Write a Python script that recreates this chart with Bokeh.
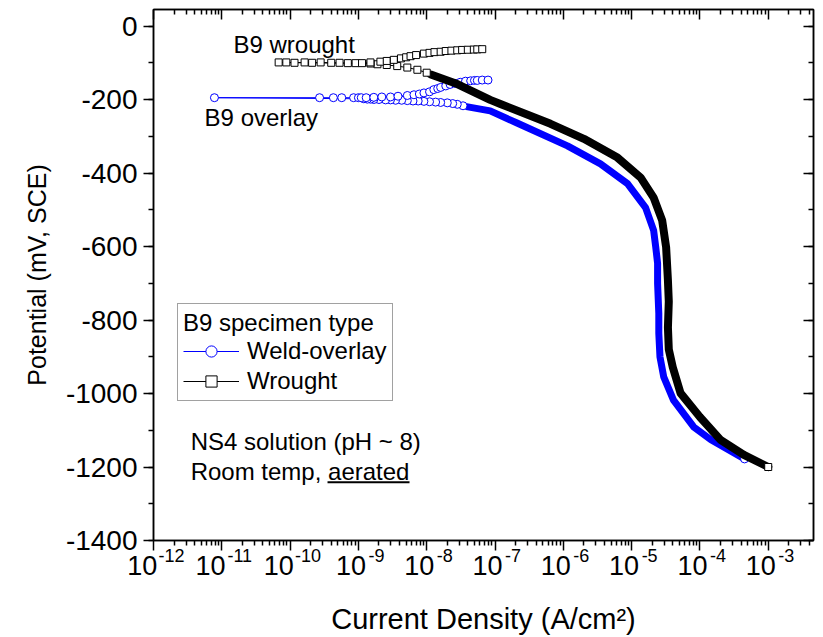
from bokeh.plotting import figure
from bokeh.models import (ColumnDataSource, FixedTicker, LogAxis, LinearAxis, CustomJSTickFormatter,
                          Legend, LegendItem, Label, BoxAnnotation, Range1d, LogScale)
from bokeh.embed import file_html
from bokeh.resources import INLINE

FONT = "Liberation Sans"

# ---------------- data ----------------
# Wrought B9: current density (A/cm2) and potential (mV, SCE), ordered along the scan
wrought_i = [1.0e-3, 4.4e-4, 2.0e-4, 1.0e-4, 5.2e-5, 4.0e-5, 3.5e-5, 3.4e-5, 3.5e-5, 3.4e-5,
             3.2e-5, 2.8e-5, 2.1e-5, 1.35e-5, 6.2e-6, 2.0e-6, 6.5e-7, 1.2e-7, 8.5e-8, 2.8e-8, 1.15e-8,
             1.0e-8, 7.3e-9, 5.2e-9, 3.7e-9, 2.6e-9, 1.9e-9, 1.5e-9,
             6.8e-11, 8.8e-11, 1.16e-10, 1.63e-10, 2.1e-10, 2.8e-10, 4.0e-10, 5.3e-10, 7.0e-10, 9.1e-10, 1.13e-9,
             1.5e-9, 2.1e-9, 2.6e-9, 3.3e-9, 4.2e-9, 5.0e-9, 5.8e-9, 7.0e-9, 9.1e-9, 1.1e-8,
             1.3e-8, 1.6e-8, 1.9e-8, 2.3e-8, 2.8e-8, 3.3e-8, 4.0e-8, 4.9e-8, 5.5e-8, 6.5e-8]
wrought_E = [-1200, -1167, -1126, -1064, -999, -928, -880, -820, -750, -692,
             -602, -529, -467, -412, -358, -307, -266, -212, -201, -158, -132,
             -127, -119, -113, -109, -106, -104, -102,
             -99, -99, -100, -99, -100, -99, -100, -100, -101, -101, -101,
             -99, -97, -95, -92, -88, -85, -82, -79, -75, -73,
             -71, -70, -68, -67, -66, -65, -64.5, -64, -63.5, -63]
wrought_dense = 21   # first points of the scan form the solid band

# Weld-overlay B9
overlay_i = [4.5e-4, 1.45e-4, 8.1e-5, 4.1e-5, 2.95e-5, 2.6e-5, 2.5e-5, 2.5e-5, 2.4e-5, 2.4e-5,
             2.25e-5, 2.1e-5, 1.6e-5, 8.7e-6, 3.5e-6, 1.15e-6, 2.1e-7, 8.5e-8, 4.0e-8,
             3.4e-8, 2.8e-8, 2.4e-8, 2.0e-8, 1.6e-8, 1.35e-8, 1.1e-8, 9.1e-9, 7.5e-9, 6.3e-9,
             5.2e-9, 4.3e-9, 3.5e-9, 2.95e-9, 2.5e-9, 2.0e-9, 1.68e-9, 1.5e-9, 1.35e-9, 1.2e-9,
             7.8e-12, 2.7e-10, 4.3e-10, 5.7e-10, 8.5e-10, 1.0e-9, 1.1e-9,
             1.3e-9, 1.68e-9, 2.2e-9, 2.95e-9, 3.8e-9, 5.2e-9, 6.5e-9, 7.8e-9, 9.1e-9, 1.1e-8,
             1.27e-8, 1.45e-8, 1.6e-8, 1.9e-8, 2.2e-8, 2.6e-8, 3.1e-8, 3.7e-8, 4.4e-8, 5.0e-8,
             5.5e-8, 6.5e-8, 7.9e-8]
overlay_E = [-1178, -1126, -1091, -1018, -955, -900, -836, -782, -700, -646,
             -600, -556, -494, -429, -375, -326, -264, -231, -220,
             -217, -213, -211, -209, -208, -207, -206, -205, -204, -204,
             -203, -202, -202, -201, -201, -200, -200, -199, -199, -198,
             -195, -195, -195, -195, -195, -195, -195,
             -195, -194, -193, -193, -191, -189, -187, -185, -182, -179,
             -173, -170, -167, -163, -159, -156, -153, -150, -149, -148,
             -148, -147, -147]
overlay_dense = 19

x_tick_values = [1e-12, 1e-11, 1e-10, 1e-9, 1e-8, 1e-7, 1e-6, 1e-5, 1e-4, 1e-3]
x_tick_base = ["10"] * len(x_tick_values)
x_tick_exponents = ["-12", "-11", "-10", "-9", "-8", "-7", "-6", "-5", "-4", "-3"]
x_minor_values = [m * d for d in x_tick_values for m in range(2, 10)]
y_tick_values = [-1400, -1200, -1000, -800, -600, -400, -200, 0]
y_tick_labels = ["-1400", "-1200", "-1000", "-800", "-600", "-400", "-200", "0"]
y_minor_values = list(range(-1400, 1, 100))

X_START, X_END = 1e-12, 4.6e-3
K_EXP = 0.545   # shift (as a factor on the log axis) that puts the exponent right of its tick

# "10" is padded on the right with no-break spaces so that it sits left of its tick
NBSP = "\u00a0"
base_padded = [b + NBSP * (3 if len(e) == 3 else 2) for b, e in zip(x_tick_base, x_tick_exponents)]

# ---------------- figure ----------------
p = figure(x_axis_type="log", x_range=Range1d(X_START, X_END), y_range=Range1d(-1400, 45),
           frame_width=660, frame_height=531, min_border_left=153, min_border_right=10,
           min_border_top=9, min_border_bottom=96, output_backend="svg", toolbar_location=None,
           background_fill_color="white", border_fill_color="white")
p.grid.visible = False
p.outline_line_color = "black"
p.outline_line_width = 1.5
p.extra_x_ranges = {"exp": Range1d(X_START * K_EXP, X_END * K_EXP)}
p.extra_x_scales = {"exp": LogScale()}

xt = FixedTicker(ticks=x_tick_values, minor_ticks=x_minor_values)
xt_lab = FixedTicker(ticks=x_tick_values, minor_ticks=[])
yt = FixedTicker(ticks=y_tick_values, minor_ticks=y_minor_values)

LOOKUP = """
for (let i = 0; i < tvals.length; i++) {
  if (Math.abs(Math.log10(Math.abs(tvals[i]) + 1e-300) - Math.log10(Math.abs(tick) + 1e-300)) < 1e-6
      && Math.sign(tvals[i]) == Math.sign(tick)) { return tlabels[i]; }
}
return "";
"""
yfmt = CustomJSTickFormatter(args=dict(tvals=y_tick_values, tlabels=y_tick_labels), code=LOOKUP)
basefmt = CustomJSTickFormatter(args=dict(tvals=x_tick_values, tlabels=base_padded), code=LOOKUP)
expfmt = CustomJSTickFormatter(args=dict(tvals=x_tick_values, tlabels=x_tick_exponents), code=LOOKUP)
empty = CustomJSTickFormatter(code="return '';")

def style_axis(ax, size):
    ax.axis_line_width = 1.5
    ax.axis_line_color = "black"
    ax.major_tick_line_width = 1.5
    ax.minor_tick_line_width = 1.5
    ax.major_tick_line_color = "black"
    ax.minor_tick_line_color = "black"
    ax.major_label_text_font = FONT
    ax.major_label_text_font_size = size
    ax.major_label_text_color = "black"
    ax.axis_label_text_font = FONT
    ax.axis_label_text_font_style = "normal"
    ax.axis_label_text_color = "black"

xa = p.xaxis[0]
xa.ticker = xt
xa.formatter = empty
style_axis(xa, "0px")
xa.major_tick_out = 10
xa.major_tick_in = 0
xa.minor_tick_out = 5
xa.minor_tick_in = 0
xa.major_label_standoff = 0

# label-only axes below the tick axis: "10" and its raised exponent
ax_base = LogAxis(ticker=xt_lab, formatter=basefmt)
ax_exp = LogAxis(x_range_name="exp", ticker=xt_lab, formatter=expfmt)
for ax, size in ((ax_base, "27px"), (ax_exp, "18px")):
    style_axis(ax, size)
    ax.axis_line_color = None
    ax.major_tick_line_color = None
    ax.minor_tick_line_color = None
    ax.major_tick_out = 0
    ax.major_tick_in = 0
    ax.minor_tick_out = 0
    ax.minor_tick_in = 0
ax_base.major_label_standoff = 0
ax_exp.major_label_standoff = -35
ax_exp.axis_label = "Current Density (A/cm²)"
ax_exp.axis_label_text_font_size = "29px"
ax_exp.axis_label_standoff = 38
p.add_layout(ax_base, "below")
p.add_layout(ax_exp, "below")

ya = p.yaxis[0]
ya.ticker = yt
ya.formatter = yfmt
style_axis(ya, "28px")
ya.major_tick_out = 10
ya.major_tick_in = 0
ya.minor_tick_out = 5
ya.minor_tick_in = 0
ya.major_label_standoff = 6
ya.axis_label = "Potential (mV, SCE)"
ya.axis_label_text_font_size = "25px"
ya.axis_label_standoff = 12

top = LogAxis(ticker=xt, formatter=empty)
right = LinearAxis(ticker=yt, formatter=empty)
for ax in (top, right):
    style_axis(ax, "0px")
    ax.major_tick_in = 10
    ax.major_tick_out = 0
    ax.minor_tick_in = 5
    ax.minor_tick_out = 0
    ax.major_label_standoff = 0
p.add_layout(top, "above")
p.add_layout(right, "right")

# ---------------- series ----------------
def draw_series(xs, ys, ndense, color, marker, msize, band_w):
    src = ColumnDataSource(dict(x=xs, y=ys))
    band = ColumnDataSource(dict(x=xs[:ndense], y=ys[:ndense]))
    idx = [0] + list(range(ndense, len(xs)))
    pts = ColumnDataSource(dict(x=[xs[i] for i in idx], y=[ys[i] for i in idx]))
    line_r = p.line("x", "y", source=src, line_color=color, line_width=1)
    p.line("x", "y", source=band, line_color=color, line_width=band_w,
           line_join="round", line_cap="round")
    mark_r = p.scatter("x", "y", source=pts, marker=marker, size=msize, line_color=color,
                       line_width=1, fill_color="white")
    return line_r, mark_r

bl, bm = draw_series(overlay_i, overlay_E, overlay_dense, "#0000ff", "circle", 8, 7)
kl, km = draw_series(wrought_i, wrought_E, wrought_dense, "black", "square", 7, 8)

# ---------------- legend ----------------
legend = Legend(items=[LegendItem(label="Weld-overlay", renderers=[bl, bm]),
                       LegendItem(label="Wrought", renderers=[kl, km])],
                location=(24, 139), title="B9 specimen type",
                title_text_font=FONT, title_text_font_size="24px", title_text_font_style="normal",
                title_text_color="black", title_standoff=0,
                label_text_font=FONT, label_text_font_size="24px", label_text_color="black",
                glyph_width=56, glyph_height=28, label_height=28, label_standoff=8,
                padding=5, spacing=2, margin=0,
                border_line_color="#444444", border_line_width=1,
                background_fill_color="white", background_fill_alpha=1.0)
p.add_layout(legend)

# underline of the legend title
p.add_layout(BoxAnnotation(left=2.66e-12, right=1.97e-9, top=-835, bottom=-840, level="overlay",
                           fill_color="black", fill_alpha=1, line_alpha=0))

# ---------------- annotations ----------------
def note(x, y, text):
    p.add_layout(Label(x=x, y=y, text=text, text_font=FONT, text_font_size="24px",
                       text_color="black", text_baseline="middle", text_align="left"))

note(1.48e-11, -51, "B9 wrought")
note(5.6e-12, -248, "B9 overlay")
note(3.5e-12, -1130, "NS4 solution (pH ~ 8)")
note(3.5e-12, -1212, "Room temp, aerated")
p.add_layout(BoxAnnotation(left=3.53e-10, right=5.6e-9, top=-1239, bottom=-1244, level="overlay",
                           fill_color="black", fill_alpha=1, line_alpha=0))

open("out.html", "w").write(file_html(p, INLINE))
